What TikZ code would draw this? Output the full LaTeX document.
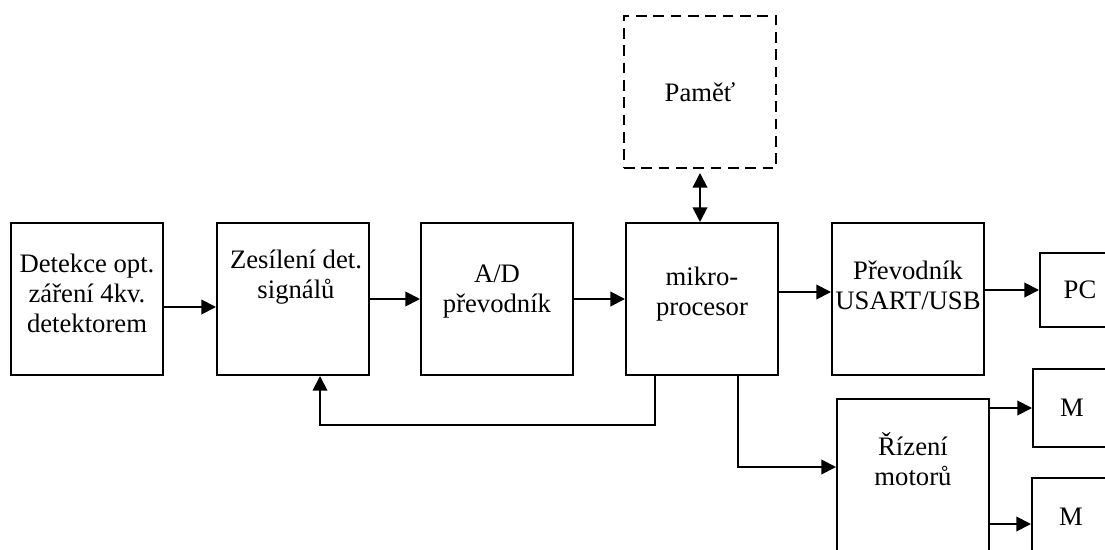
\documentclass[tikz,border=0pt]{standalone}
\usepackage{fontspec}
\setmainfont{Liberation Serif}
\usetikzlibrary{arrows.meta,calc}
\tikzset{
  blok/.style={draw, line width=1.5pt, minimum width=114pt, minimum height=114pt, inner sep=0pt, font=\fontsize{20}{22.5}\selectfont},
  malyblok/.style={draw, line width=1.5pt, inner sep=0pt, font=\fontsize{20}{22.5}\selectfont},
  popis/.style={align=center, inner sep=0pt, font=\fontsize{20}{22.5}\selectfont},
  sip/.style={line width=1.4pt, -{Triangle[length=11pt,width=11pt]}},
  sipoboj/.style={line width=1.4pt, {Triangle[length=11pt,width=11pt]}-{Triangle[length=11pt,width=11pt]}},
}
\begin{document}
\begin{tikzpicture}[x=0.75pt,y=-0.75pt]
\useasboundingbox (0,0) rectangle (1105,549);
\clip (0,0) rectangle (1105,549);
% hlavni retezec bloku
\node[blok] (det) at (87,299) {};
\node[popis] (det-t) at (87,293) {Detekce opt.\\záření 4kv.\\detektorem};
\node[blok] (zes) at (293,299) {};
\node[popis] (zes-t) at (296,277) {Zesílení det.\\signálů};
\node[blok] (ad) at (497,299) {};
\node[popis] (ad-t) at (497,292) {A/D\\převodník};
\node[blok] (mcu) at (702,299) {};
\node[popis] (mcu-t) at (702,294) {mikro-\\procesor};
\node[blok] (usb) at (908,299) {};
\node[popis] (usb-t) at (908,285) {Převodník\\USART/USB};
\node[blok, dash pattern=on 8pt off 5pt] (mem) at (700,92) {Paměť};
\node[blok] (riz) at (913,475) {};
\node[popis] (riz-t) at (913,459) {Řízení\\motorů};
\node[malyblok, minimum width=60pt, minimum height=56pt] (pc) at (1080,290) {PC};
\node[malyblok, minimum width=58.5pt, minimum height=58pt] (m1) at (1072,408) {M};
\node[malyblok, minimum width=58.5pt, minimum height=58pt] (m2) at (1071,517) {M};
% spoje
\draw[sip] ($(det.east)+(0,8)$) -- ($(zes.west)+(0,8)$);
\draw[sip] (zes.east) -- (ad.west);
\draw[sip] (ad.east) -- (mcu.west);
\draw[sip] ($(mcu.east)+(0,-7)$) -- ($(usb.west)+(0,-7)$);
\draw[sip] ($(usb.east)+(0,-9)$) -- (pc.west);
\draw[sipoboj, shorten <=3pt] (mem.south) -- (mem.south |- mcu.north);
\draw[sip] ($(mcu.south west)+(30,0)$) -- ++(0,49) -| ($(zes.south)+(27,0)$);
\draw[sip] ($(mcu.south west)+(113,0)$) |- ($(riz.west)+(0,-8)$);
\draw[sip] (riz.east |- m1.west) -- (m1.west);
\draw[sip] ($(riz.east)+(0,49)$) -- ($(m2.west)+(0,7)$);
\end{tikzpicture}
\end{document}
